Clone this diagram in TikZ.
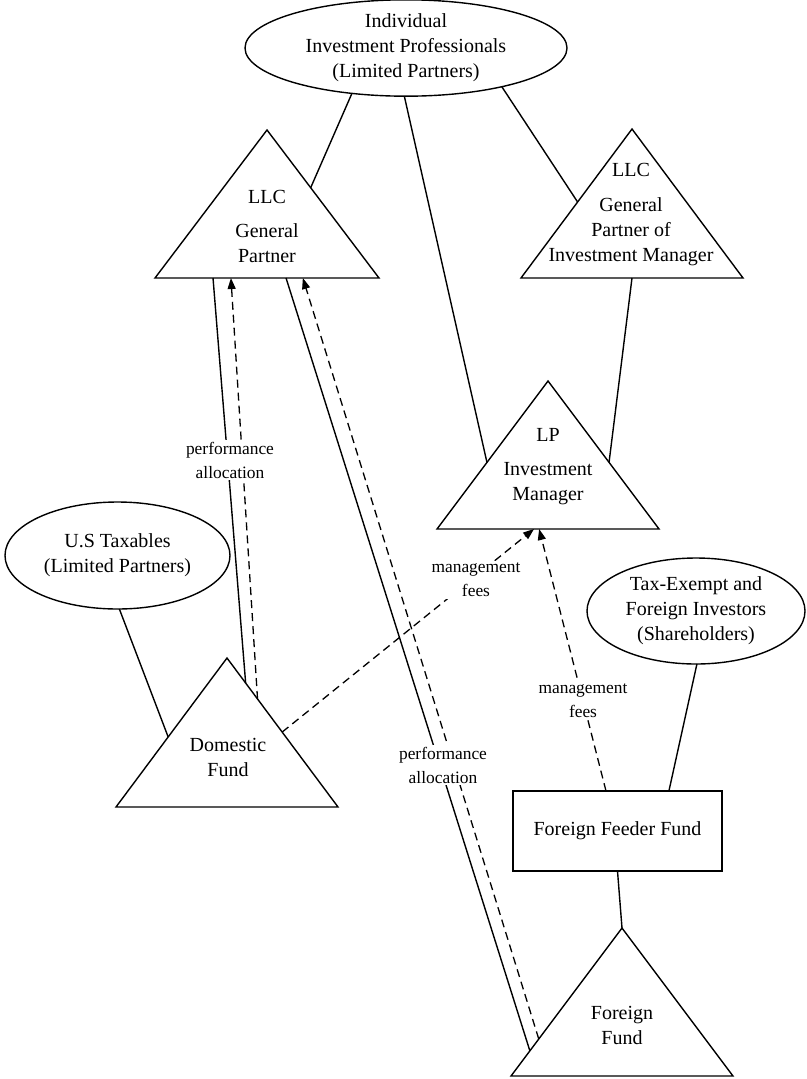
\documentclass[tikz,border=0pt]{standalone}
\usepackage{fontspec}
\setmainfont{Liberation Serif}
\usetikzlibrary{shapes.geometric,calc,arrows.meta}
\begin{document}
\begin{tikzpicture}[x=1pt,y=-1pt,
  outline/.style={line width=1.4pt, line join=miter},
  link/.style={line width=1.4pt},
  flow/.style={line width=1.3pt, dash pattern=on 8pt off 5pt, -{Triangle[length=11pt,width=8pt]}},
  party/.style={ellipse, draw, line width=1.4pt, inner sep=0pt, outer sep=0pt, align=center, font=\fontsize{20}{25}\selectfont},
  body/.style={align=center, inner sep=0pt, font=\fontsize{20}{25}\selectfont},
  flowlabel/.style={fill=white, align=center, inner sep=2pt, font=\fontsize{17.4}{24}\selectfont}]

\useasboundingbox (0,0) rectangle (806,1079);

% investor groups
\node[party, minimum width=322pt, minimum height=92pt] (pros) at (406,48)
  {Individual\\Investment Professionals\\(Limited Partners)};
\node[party, minimum width=225pt, minimum height=107pt] (ustax) at (117.5,555.5)
  {U.S Taxables\\(Limited Partners)};
\node[party, minimum width=218pt, minimum height=106pt] (exempt) at (696,611)
  {Tax-Exempt and\\Foreign Investors\\(Shareholders)};

% feeder fund box
\node[draw, line width=1.4pt, minimum width=209pt, minimum height=80pt, inner sep=0pt, outer sep=0pt,
  font=\fontsize{20}{25}\selectfont] (feeder) at (617.5,831) {Foreign Feeder Fund};

% triangle corners: apex, base left, base right
\coordinate (gpA) at (267,130);   \coordinate (gpL) at (155,278);  \coordinate (gpR) at (379,278);
\coordinate (imgA) at (632,129);  \coordinate (imgL) at (521,278); \coordinate (imgR) at (743,278);
\coordinate (lpA) at (548,381);   \coordinate (lpL) at (437,529);  \coordinate (lpR) at (659,529);
\coordinate (domA) at (227,658);  \coordinate (domL) at (116,807); \coordinate (domR) at (338,807);
\coordinate (forA) at (622,928);  \coordinate (forL) at (511,1076); \coordinate (forR) at (733,1076);

\draw[outline] (gpA) -- (gpL) -- (gpR) -- cycle;
\draw[outline] (imgA) -- (imgL) -- (imgR) -- cycle;
\draw[outline] (lpA) -- (lpL) -- (lpR) -- cycle;
\draw[outline] (domA) -- (domL) -- (domR) -- cycle;
\draw[outline] (forA) -- (forL) -- (forR) -- cycle;

\node[body] (gptext) at (267,226) {LLC\\[9pt]General\\Partner};
\node[body] (imgtext) at (631,215) {LLC\\[10pt]General\\Partner of\\Investment Manager};
\node[body] (lptext) at (548,467) {LP\\[9pt]Investment\\Manager};
\node[body] (domtext) at (228,757) {Domestic\\Fund};
\node[body] (fortext) at (622,1025) {Foreign\\Fund};

% ownership links
\draw[link] (pros.220) -- ($(gpA)!0.39!(gpR)$);
\draw[link] (pros.268) -- ($(lpA)!0.55!(lpL)$);
\draw[link] (pros.-22) -- ($(imgA)!0.49!(imgL)$);
\draw[link] ($(imgL)!0.5!(imgR)$) -- ($(lpA)!0.55!(lpR)$);
\draw[link] (ustax.272) -- ($(domA)!0.53!(domL)$);
\draw[link] (exempt.271) -- ($(feeder.north west)!0.746!(feeder.north east)$);
\draw[link] (feeder.south) -- (forA);
\draw[link] ($(gpL)!0.259!(gpR)$) -- ($(domA)!0.168!(domR)$);
\draw[link] ($(gpL)!0.585!(gpR)$) -- ($(forA)!0.83!(forL)$);

% fee and allocation flows
\draw[flow] ($(domA)!0.275!(domR)$) -- ($(gpL)!0.339!(gpR)$);
\draw[flow] ($(forA)!0.75!(forL)$) -- ($(gpL)!0.66!(gpR)$);
\draw[flow] ($(domA)!0.497!(domR)$) -- ($(lpL)!0.437!(lpR)$);
\draw[flow] ($(feeder.north west)!0.445!(feeder.north east)$) -- ($(lpL)!0.46!(lpR)$);

\node[flowlabel] (perfdom) at (230,460) {performance\\allocation};
\node[flowlabel] (perffor) at (443,765) {performance\\allocation};
\node[flowlabel] (feedom) at (476,580) {management\\fees};
\node[flowlabel] (feefor) at (583,701) {management\\fees};

\end{tikzpicture}
\end{document}
